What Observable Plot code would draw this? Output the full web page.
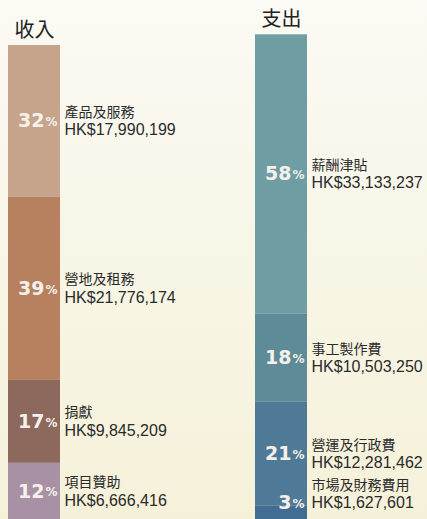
<!DOCTYPE html>
<html><head><meta charset="utf-8">
<script src="https://cdn.jsdelivr.net/npm/d3@7"></script>
<script src="https://cdn.jsdelivr.net/npm/@observablehq/plot@0.6"></script>
<style>
html,body{margin:0;padding:0;}
body{width:427px;height:519px;overflow:hidden;background:linear-gradient(#fbfaf4,#f5f1d9);}
</style></head><body><div id="chart"></div>
<script>
const groups = ["收入", "支出"];
const incomeItems = ["產品及服務", "營地及租務", "捐獻", "項目贊助"];
const incomeValues = [17990199, 21776174, 9845209, 6666416];
const incomePercents = [32, 39, 17, 12];
const expenseItems = ["薪酬津貼", "事工製作費", "營運及行政費", "市場及財務費用"];
const expenseValues = [33133237, 10503250, 12281462, 1627601];
const expensePercents = [58, 18, 21, 3];

const incomePalette = ["#c6a48c", "#b7815f", "#8c695c", "#a891a4"];
const expensePalette = ["#6e9ea3", "#5d8b97", "#4e7a97", "#416d93"];

function buildRows(group, items, values, pcts) {
  const total = d3.sum(values);
  let top = total;
  return items.map((item, i) => {
    const y2 = top, y1 = top - values[i];
    top = y1;
    return {group, item, value: values[i], pct: pcts[i], total, y1, y2,
      mid: (y1 + y2) / 2, small: values[i] / total < 0.05,
      amount: "HK$" + d3.format(",")(values[i])};
  });
}
const rows = [
  ...buildRows(groups[0], incomeItems, incomeValues, incomePercents),
  ...buildRows(groups[1], expenseItems, expenseValues, expensePercents)
];
const normal = rows.filter(d => !d.small);
const small = rows.filter(d => d.small);
const totals = groups.map(g => ({group: g, total: d3.sum(rows.filter(d => d.group === g), d => d.value)}));

const pctFont = {fontFamily: "DejaVu Sans", fontWeight: "bold", fill: "#f6f0ea"};
const cjk = "Noto Sans CJK TC";
const latin = "Liberation Sans, Arial, sans-serif";

function labelMarks(data, key, off) {
  return [
    Plot.text(data, {x: "group", y: key, text: d => String(d.pct), textAnchor: "end", dx: 10, dy: off.pct, fontSize: 19, ...pctFont}),
    Plot.text(data, {x: "group", y: key, text: () => "%", textAnchor: "start", dx: 11, dy: off.pct + 1, fontSize: 12, ...pctFont}),
    Plot.text(data, {x: "group", y: key, text: "item", textAnchor: "start", dx: 30, dy: off.name, fontSize: 14, fontFamily: cjk, fill: "#2b2b2b"}),
    Plot.text(data, {x: "group", y: key, text: "amount", textAnchor: "start", dx: 30, dy: off.amount, fontSize: 16, fontFamily: latin, fill: "#2b2b2b"})
  ];
}

const chart = Plot.plot({
  width: 427,
  height: 519,
  margin: 0,
  style: {background: "transparent", overflow: "visible"},
  x: {type: "band", domain: groups, range: [8, 307], paddingInner: 0.79, paddingOuter: 0, align: 0, axis: null},
  y: {domain: [0, 60e6], range: [519, 13.65], axis: null},
  color: {domain: [...incomeItems, ...expenseItems], range: [...incomePalette, ...expensePalette]},
  marks: [
    Plot.barY(rows, {x: "group", y1: "y1", y2: "y2", fill: "item"}),
    Plot.text(totals, {x: "group", y: "total", text: "group", dy: -15, fontSize: 20, fontFamily: cjk, fill: "#222"}),
    ...labelMarks(normal, "mid", {pct: 0, name: -9, amount: 9}),
    ...labelMarks(small, "y2", {pct: -3, name: -20, amount: -3})
  ]
});
document.getElementById("chart").appendChild(chart);
</script>
</body></html>
